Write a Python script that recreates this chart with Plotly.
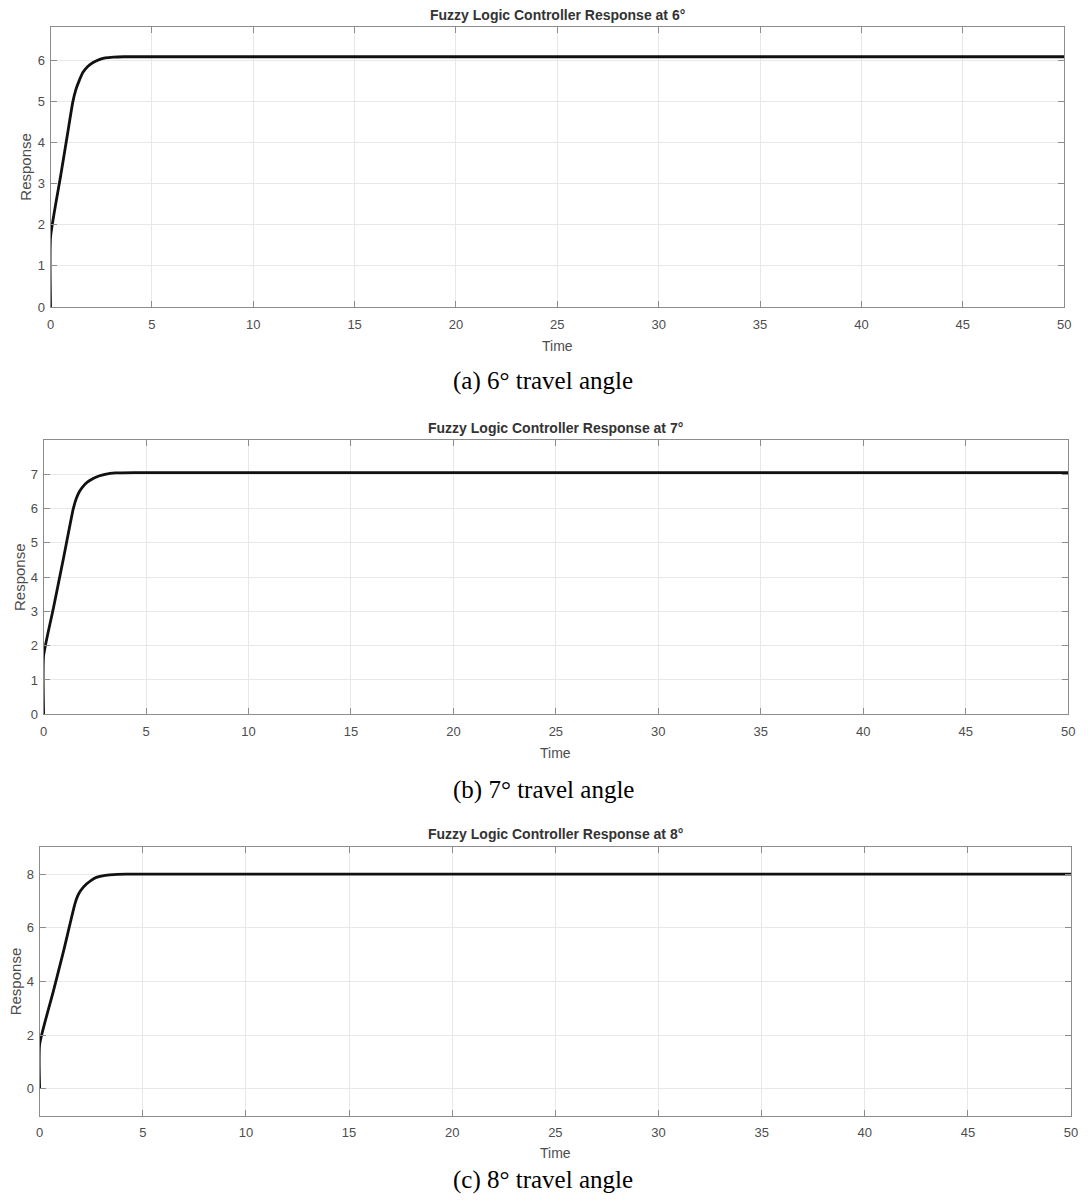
import plotly.graph_objects as go

# ---- data ----
t_6 = [0, 0, 0.5, 0.8, 1.1, 1.25, 1.4, 1.6, 1.85, 2.1, 2.4, 2.7, 3.1, 3.6, 50]
r_6 = [0, 1.7, 3.2, 4.1, 5.0, 5.3, 5.5, 5.72, 5.87, 5.96, 6.03, 6.07, 6.09, 6.1, 6.1]

t_7 = [0, 0, 0.48, 0.97, 1.45, 1.6, 1.75, 1.93, 2.15, 2.42, 2.7, 3.0, 3.5, 4.5, 50]
r_7 = [0, 1.7, 3.1, 4.55, 6.0, 6.3, 6.5, 6.65, 6.78, 6.88, 6.95, 7.0, 7.04, 7.05, 7.05]

t_8 = [0, 0, 0.67, 1.15, 1.71, 1.85, 2.0, 2.27, 2.5, 2.75, 3.05, 3.39, 4.2, 50]
r_8 = [0, 1.65, 3.65, 5.1, 6.89, 7.2, 7.4, 7.63, 7.77, 7.88, 7.94, 7.97, 8.0, 8.0]

titles = ["Fuzzy Logic Controller Response at 6°",
          "Fuzzy Logic Controller Response at 7°",
          "Fuzzy Logic Controller Response at 8°"]
captions = ["(a) 6° travel angle", "(b) 7° travel angle", "(c) 8° travel angle"]
x_ticks = [0, 5, 10, 15, 20, 25, 30, 35, 40, 45, 50]
y_ticks = [[0, 1, 2, 3, 4, 5, 6], [0, 1, 2, 3, 4, 5, 6, 7], [0, 2, 4, 6, 8]]
y_ranges = [[0, 6.83], [0, 8], [-1, 9]]

W, H = 1088, 1203
# pixel boxes (page coords) of each plot area: (left, right, top, bottom)
boxes = [(47, 1071, 27, 309), (40, 1075, 443, 719), (36, 1078, 853, 1123)]
title_y = [15, 431, 840]
xlabel_y = [348, 758, 1161]
caption_y = [384, 795, 1188]
ylabel_x = [22, 15, 12]

series = [(t_6, r_6), (t_7, r_7), (t_8, r_8)]


def px(v):
    return v / W


def py(v):
    return 1 - v / H


fig = go.Figure()
ann = []
axis_col = "#8c8c8c"
tick_font = dict(family="Liberation Sans, Arial", size=13, color="#4d4d4d")
for i, ((tx, ry), (l, r, tp, bt)) in enumerate(zip(series, boxes)):
    xa = "xaxis" if i == 0 else f"xaxis{i+1}"
    ya = "yaxis" if i == 0 else f"yaxis{i+1}"
    xr = "x" if i == 0 else f"x{i+1}"
    yr = "y" if i == 0 else f"y{i+1}"
    fig.add_trace(go.Scatter(x=tx, y=ry, mode="lines", xaxis=xr, yaxis=yr,
                             line=dict(color="#111111", width=2.8, shape="spline", smoothing=0.5),
                             showlegend=False, hoverinfo="skip"))
    fig.layout[xa] = dict(domain=[px(l), px(r)], anchor=yr, range=[0, 50],
                          tickvals=x_ticks, ticks="inside", ticklen=6, tickcolor=axis_col,
                          showline=True, linecolor=axis_col, linewidth=1, mirror="ticks",
                          showgrid=True, gridcolor="#e8e8e8", gridwidth=1, zeroline=False,
                          tickfont=tick_font, ticklabelstandoff=5)
    fig.layout[ya] = dict(domain=[py(bt), py(tp)], anchor=xr, range=y_ranges[i],
                          tickvals=y_ticks[i], ticks="inside", ticklen=6, tickcolor=axis_col,
                          showline=True, linecolor=axis_col, linewidth=1, mirror="ticks",
                          showgrid=True, gridcolor="#e8e8e8", gridwidth=1, zeroline=False,
                          tickfont=tick_font, ticklabelstandoff=2)
    ann.append(dict(text="<b>" + titles[i] + "</b>", x=px((l + r) / 2), y=py(title_y[i]),
                    xref="paper", yref="paper", showarrow=False, xanchor="center", yanchor="middle",
                    font=dict(family="Liberation Sans, Arial", size=14, color="#333333")))
    ann.append(dict(text="Time", x=px((l + r) / 2), y=py(xlabel_y[i]),
                    xref="paper", yref="paper", showarrow=False, xanchor="center", yanchor="middle",
                    font=dict(family="Liberation Sans, Arial", size=14, color="#4d4d4d")))
    ann.append(dict(text="Response", x=px(ylabel_x[i]), y=py((tp + bt) / 2), textangle=-90,
                    xref="paper", yref="paper", showarrow=False, xanchor="center", yanchor="middle",
                    font=dict(family="Liberation Sans, Arial", size=15, color="#4d4d4d")))
    ann.append(dict(text=captions[i], x=px(545), y=py(caption_y[i]),
                    xref="paper", yref="paper", showarrow=False, xanchor="center", yanchor="middle",
                    font=dict(family="Liberation Serif, Times New Roman", size=25, color="#000000")))

fig.update_layout(width=W, height=H, margin=dict(l=0, r=0, t=0, b=0),
                  paper_bgcolor="white", plot_bgcolor="white", annotations=ann)
fig.write_html("out.html", config={"displayModeBar": False},
               post_script="document.body.style.margin='0';document.body.style.overflow='hidden';")
